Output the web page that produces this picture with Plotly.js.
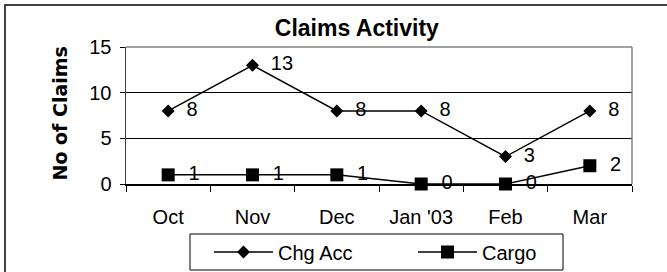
<!DOCTYPE html>
<html>
<head>
<meta charset="utf-8">
<script src="https://cdn.plot.ly/plotly-3.0.1.min.js"></script>
<style>html,body{margin:0;padding:0;background:#fff;}#chart{width:667px;height:272px;}</style>
</head>
<body>
<div id="chart"></div>
<script>
const categories = ['Oct', 'Nov', 'Dec', "Jan '03", 'Feb', 'Mar'];
const chgAcc = [8, 13, 8, 8, 3, 8];
const cargo = [1, 1, 1, 0, 0, 2];
const yTicks = [0, 5, 10, 15];

const FONT = 'Liberation Sans, Arial, sans-serif';

const traces = [
  {
    x: categories, y: chgAcc, name: 'Chg Acc', type: 'scatter', mode: 'lines+markers+text',
    text: chgAcc.map(v => '  ' + v), textposition: 'middle right',
    textfont: {family: FONT, size: 20, color: '#000'},
    line: {color: '#000', width: 1.5},
    marker: {symbol: 'diamond', size: 10, color: '#000'},
    cliponaxis: false
  },
  {
    x: categories, y: cargo, name: 'Cargo', type: 'scatter', mode: 'lines+markers+text',
    text: cargo.map(v => '  ' + v), textposition: 'middle right',
    textfont: {family: FONT, size: 20, color: '#000'},
    line: {color: '#000', width: 1.5},
    marker: {symbol: 'square', size: 13, color: '#000'},
    cliponaxis: false
  }
];

const layout = {
  width: 667, height: 272,
  margin: {l: 126, r: 35, t: 47, b: 88, autoexpand: false},
  paper_bgcolor: '#fff', plot_bgcolor: '#fff',
  font: {family: FONT, size: 20, color: '#000'},
  showlegend: true,
  title: {
    text: '<b>Claims Activity</b>', font: {family: FONT, size: 23, color: '#000'},
    x: 0.535, xref: 'container', xanchor: 'center', y: 0.899, yref: 'container', yanchor: 'middle'
  },
  xaxis: {
    type: 'category', range: [-0.5, 5.5], fixedrange: true,
    tickson: 'boundaries', ticks: 'outside', ticklen: 6, tickcolor: '#000', tickwidth: 1,
    showline: true, linecolor: '#000', linewidth: 1.5, showgrid: false, zeroline: false,
    tickfont: {family: FONT, size: 20, color: '#000'}, ticklabelstandoff: 14
  },
  yaxis: {
    range: [0, 15], tickvals: yTicks, ticktext: yTicks.map(String),
    ticks: 'outside', ticklen: 5, tickcolor: '#000',
    showline: true, linecolor: '#404040', linewidth: 1.5,
    showgrid: true, gridcolor: '#000', gridwidth: 1, zeroline: false,
    tickfont: {family: FONT, size: 20, color: '#000'}, ticklabelstandoff: 4
  },
  legend: {
    orientation: 'h', x: (209 - 126) / 506, xanchor: 'left', y: (184 - 252) / 137, yanchor: 'middle',
    borderwidth: 0, bgcolor: 'rgba(0,0,0,0)',
    font: {family: FONT, size: 20, color: '#000'}, itemwidth: 59, entrywidth: 130
  },
  annotations: [{
    text: '<b>No of Claims</b>', textangle: -90, showarrow: false,
    xref: 'paper', yref: 'paper', x: (59 - 126) / 506, y: (184 - 113.5) / 137,
    xanchor: 'center', yanchor: 'middle',
    font: {family: 'DejaVu Sans, sans-serif', size: 19, color: '#000'}
  }],
  shapes: [
    {type: 'rect', xref: 'paper', yref: 'paper', x0: -0.2391, x1: 1.134, y0: -0.847, y1: 1.3066,
     line: {color: '#404040', width: 2}, layer: 'below'},
    {type: 'rect', xref: 'paper', yref: 'paper', x0: (190 - 126) / 506, x1: (563 - 126) / 506,
     y0: (184 - 270) / 137, y1: (184 - 234) / 137,
     line: {color: '#000', width: 1}, layer: 'below'},
    {type: 'line', xref: 'paper', yref: 'paper', x0: 0, x1: 1, y0: 1, y1: 1,
     line: {color: '#808080', width: 1.5}},
    {type: 'line', xref: 'paper', yref: 'paper', x0: 1, x1: 1, y0: 0, y1: 1,
     line: {color: '#808080', width: 1.5}}
  ]
};

Plotly.newPlot('chart', traces, layout, {displayModeBar: false, staticPlot: true});
</script>
</body>
</html>
